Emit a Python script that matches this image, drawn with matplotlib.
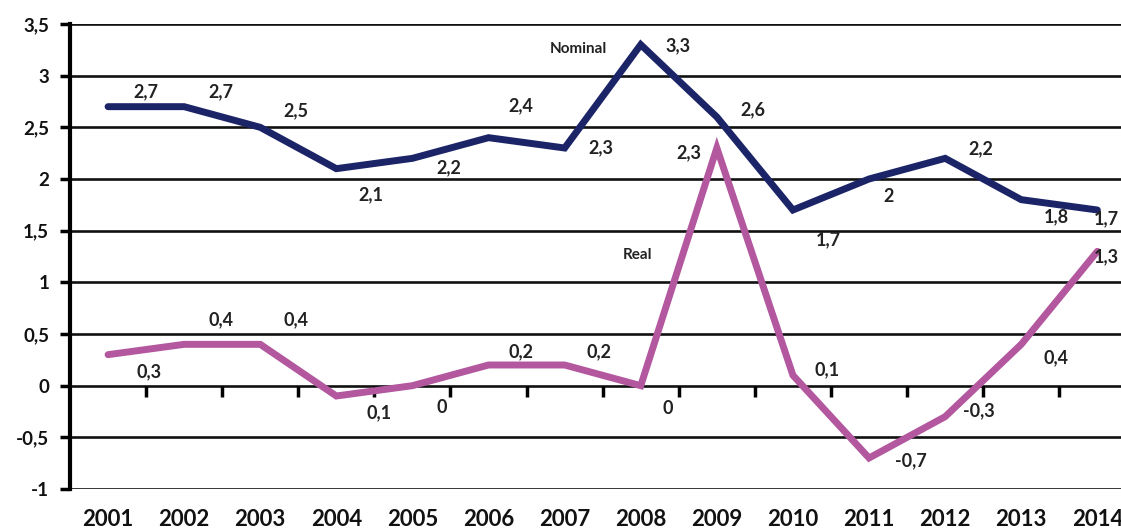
import numpy as np
import matplotlib.pyplot as plt
from matplotlib.transforms import blended_transform_factory

plt.rcParams['font.family'] = ['Lato', 'DejaVu Sans']

years = [2001, 2002, 2003, 2004, 2005, 2006, 2007, 2008, 2009, 2010, 2011, 2012, 2013, 2014]
nominal = [2.7, 2.7, 2.5, 2.1, 2.2, 2.4, 2.3, 3.3, 2.6, 1.7, 2.0, 2.2, 1.8, 1.7]
real = [0.3, 0.4, 0.4, -0.1, 0.0, 0.2, 0.2, 0.0, 2.3, 0.1, -0.7, -0.3, 0.4, 1.3]
# labels as printed on the chart (the 2004 real value is printed without its minus)
nominal_labels = ['2,7', '2,7', '2,5', '2,1', '2,2', '2,4', '2,3', '3,3', '2,6', '1,7', '2', '2,2', '1,8', '1,7']
real_labels = ['0,3', '0,4', '0,4', '0,1', '0', '0,2', '0,2', '0', '2,3', '0,1', '-0,7', '-0,3', '0,4', '1,3']
yticks = [-1, -0.5, 0, 0.5, 1, 1.5, 2, 2.5, 3, 3.5]

# label offsets in pixels (dx, dy), dy positive = up
nom_off = [(38, 15), (37, 15), (36, 17), (35, -26), (36, -9), (32, 32), (36, 0), (37, -1),
           (36, 7), (35, -30), (20, -17), (36, 10), (35, -17), (9, -9)]
real_off = [(41, -17), (37, 25), (36, 25), (43, -17), (29, -22), (32, 13), (34, 13), (27, -23),
            (-28, -5), (34, 6), (42, -3), (34, 6), (35, -13), (9, -5)]

navy = '#1c2468'
magenta = '#b3579f'

fig = plt.figure(figsize=(11.21, 5.31), dpi=100)
ax = fig.add_axes([70 / 1121, 42 / 531, 14 * 76.1 / 1121, 465 / 531])

x = np.arange(len(years))
ax.set_xlim(-0.5, len(years) - 0.5)
ax.set_ylim(-1, 3.5)

for yv in yticks:
    ax.axhline(yv, color='#111111', lw=1.9, zorder=1)

ax.plot(x, nominal, color=navy, lw=5, solid_capstyle='round', solid_joinstyle='miter', zorder=3)
ax.plot(x, real, color=magenta, lw=5, solid_capstyle='round', solid_joinstyle='miter', zorder=3)

# category boundary ticks on the zero line
ax.plot(x[:-1] + 0.5, np.zeros(len(x) - 1), linestyle='none', marker=3,
        markersize=8, mew=2.5, color='black', zorder=2)

for i in range(len(x)):
    ax.annotate(nominal_labels[i], (x[i], nominal[i]), xytext=nom_off[i],
                textcoords='offset pixels', ha='center', va='center',
                fontsize=13, fontweight='bold', color='#222222', zorder=4)
    ax.annotate(real_labels[i], (x[i], real[i]), xytext=real_off[i],
                textcoords='offset pixels', ha='center', va='center',
                fontsize=13, fontweight='bold', color='#222222', zorder=4)

ax.annotate('Nominal', (7, 3.3), xytext=(-62, -4), textcoords='offset pixels',
            ha='center', va='center', fontsize=11, fontweight='bold', color='#222222')
ax.annotate('Real', (8, 2.3), xytext=(-79, -107), textcoords='offset pixels',
            ha='center', va='center', fontsize=11, fontweight='bold', color='#222222')

trans = blended_transform_factory(ax.transData, ax.transAxes)
for i, yr in enumerate(years):
    ax.annotate(str(yr), (x[i], 0), xycoords=trans, xytext=(0, -31),
                textcoords='offset pixels', ha='center', va='center',
                fontsize=16, fontweight='bold', color='#111111')

ax.set_xticks([])
ax.set_yticks(yticks)
ax.set_yticklabels([('%g' % v).replace('.', ',') for v in yticks],
                   fontsize=13.5, fontweight='bold', color='#111111')
ax.tick_params(axis='y', direction='out', length=7, width=2.5, pad=8)

for s in ['top', 'right', 'bottom']:
    ax.spines[s].set_visible(False)
ax.spines['left'].set_linewidth(3)
ax.spines['left'].set_zorder(2)

fig.savefig('out.png', dpi=100, facecolor='white')
